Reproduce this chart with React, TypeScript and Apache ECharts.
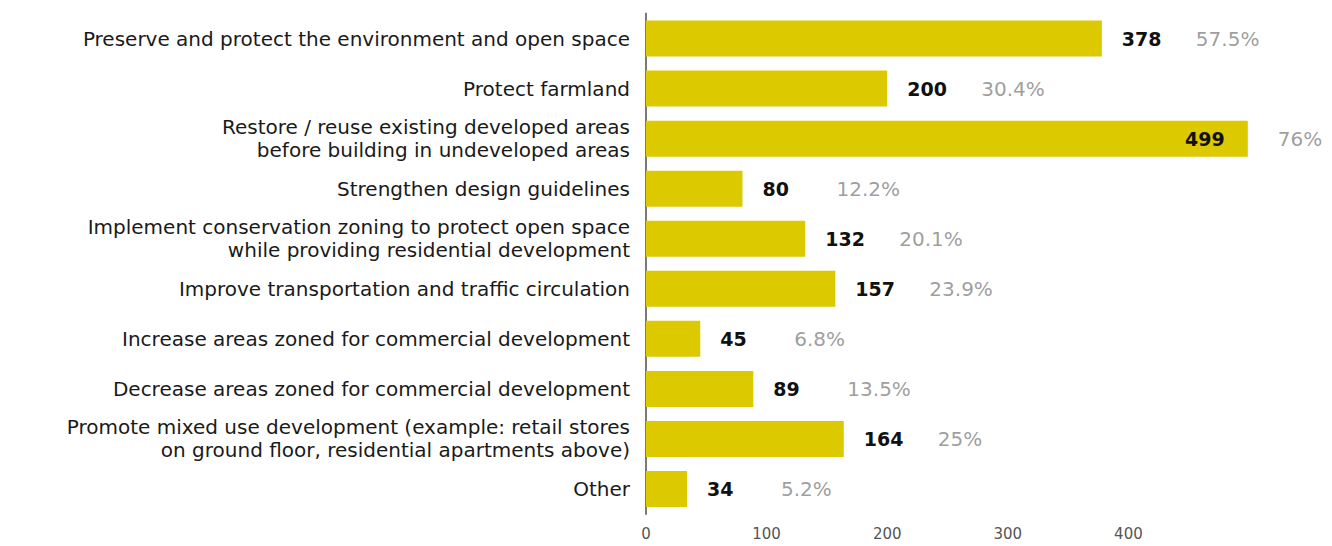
import React, { useEffect, useRef } from "react";
import * as echarts from "echarts";

const categories = [
  "Preserve and protect the environment and open space",
  "Protect farmland",
  "Restore / reuse existing developed areas\nbefore building in undeveloped areas",
  "Strengthen design guidelines",
  "Implement conservation zoning to protect open space\nwhile providing residential development",
  "Improve transportation and traffic circulation",
  "Increase areas zoned for commercial development",
  "Decrease areas zoned for commercial development",
  "Promote mixed use development (example: retail stores\non ground floor, residential apartments above)",
  "Other",
];
const counts = [378, 200, 499, 80, 132, 157, 45, 89, 164, 34];
const percents = ["57.5%", "30.4%", "76%", "12.2%", "20.1%", "23.9%", "6.8%", "13.5%", "25%", "5.2%"];
const xTicks = [0, 100, 200, 300, 400];

const FONT = "DejaVu Sans";

export default function App() {
  const ref = useRef<HTMLDivElement>(null);
  useEffect(() => {
    if (!ref.current) return;
    const chart = echarts.init(ref.current, undefined, { renderer: "svg" });
    const maxCount = Math.max(...counts);
    const barData = counts.map((v) =>
      v === maxCount
        ? { value: v, label: { position: "insideRight", distance: 23 } }
        : { value: v }
    );
    const pctData = counts.map((v, i) => ({
      value: [v, i],
      label: { distance: v === maxCount ? 30 : 94, formatter: percents[i] },
    }));
    chart.setOption({
      animation: false,
      backgroundColor: "#ffffff",
      grid: { left: 646, right: 83, top: 13.5, bottom: 32, containLabel: false },
      xAxis: {
        type: "value",
        min: 0,
        max: 500,
        interval: 100,
        splitLine: { show: false },
        axisLine: { show: false },
        axisTick: { show: false },
        axisLabel: {
          margin: 12,
          color: "#555",
          fontFamily: FONT,
          fontSize: 15,
          formatter: (v: number) => (xTicks.includes(v) ? String(v) : ""),
        },
      },
      yAxis: {
        type: "category",
        data: categories,
        inverse: true,
        axisLine: { show: true, lineStyle: { color: "#7a7a7a", width: 2 } },
        axisTick: { show: false },
        axisLabel: {
          margin: 16,
          color: "#1a1a1a",
          fontFamily: FONT,
          fontSize: 20,
          lineHeight: 23,
          align: "right",
        },
      },
      series: [
        {
          type: "bar",
          data: barData,
          barWidth: 36,
          itemStyle: { color: "#dcc900" },
          label: {
            show: true,
            position: "right",
            distance: 20,
            color: "#111",
            fontFamily: FONT,
            fontWeight: "bold",
            fontSize: 19,
          },
        },
        {
          type: "scatter",
          data: pctData,
          symbolSize: 0,
          silent: true,
          label: {
            show: true,
            position: "right",
            color: "#858585",
            fontFamily: FONT,
            fontSize: 20,
          },
        },
      ],
    });
    return () => chart.dispose();
  }, []);
  return (
    <div
      ref={ref}
      style={{ position: "fixed", left: 0, top: 0, width: 1332, height: 546, background: "#fff" }}
    />
  );
}
